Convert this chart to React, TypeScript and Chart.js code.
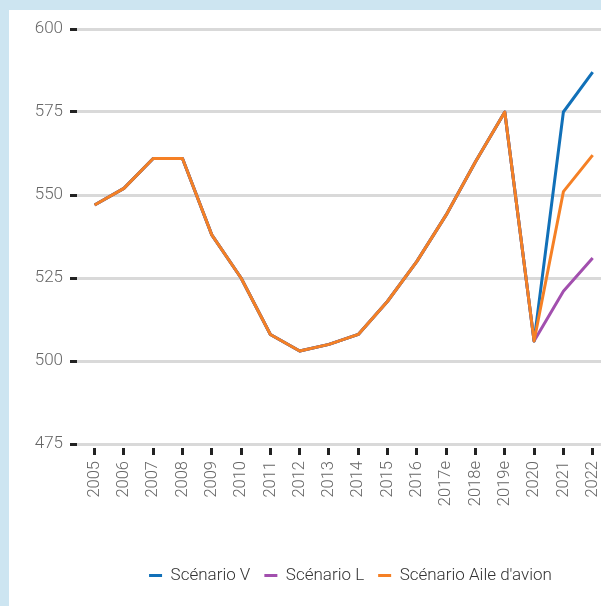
import React, { useEffect, useRef } from "react";
import { Chart, registerables } from "chart.js";

Chart.register(...registerables);

const years = [
  "2005", "2006", "2007", "2008", "2009", "2010", "2011", "2012", "2013",
  "2014", "2015", "2016", "2017e", "2018e", "2019e", "2020", "2021", "2022",
];
const scenarioV = [547, 552, 561, 561, 538, 525, 508, 503, 505, 508, 518, 530, 544, 560, 575, 506, 575, 587];
const scenarioL = [547, 552, 561, 561, 538, 525, 508, 503, 505, 508, 518, 530, 544, 560, 575, 506, 521, 531];
const scenarioAile = [547, 552, 561, 561, 538, 525, 508, 503, 505, 508, 518, 530, 544, 560, 575, 506, 551, 562];
const seriesNames = ["Scénario V", "Scénario L", "Scénario Aile d'avion"];
const seriesColors = ["#1170b8", "#a24fae", "#f58025"];
const yTicks = [475, 500, 525, 550, 575, 600];

const CANVAS_W = 602;
const CANVAS_H = 596;

export default function App() {
  const ref = useRef<HTMLCanvasElement | null>(null);

  useEffect(() => {
    if (!ref.current) return;
    const font = { family: "Roboto", weight: 300 as any, size: 17 };
    const xFont = { family: "Roboto", weight: 300 as any, size: 16.5 };
    const series = [scenarioV, scenarioL, scenarioAile];

    const legendShift = {
      id: "legendShift",
      beforeDraw(chart: any) {
        const lg = chart.legend;
        if (lg) {
          lg.left = 40.5;
          lg.right = 642.5;
        }
      },
    };

    const chart: any = new Chart(ref.current, {
      type: "line",
      data: {
        datasets: series.map((vals, k) => ({
          label: seriesNames[k],
          data: vals.map((y, i) => ({ x: i, y })),
          borderColor: seriesColors[k],
          backgroundColor: seriesColors[k],
          borderWidth: 3,
          borderJoinStyle: "round",
          pointRadius: 0,
          pointHoverRadius: 0,
          tension: 0,
          order: k === 2 ? 0 : 1,
        })),
      },
      options: {
        responsive: false,
        animation: false,
        layout: { padding: { top: 19, left: 0, right: 0, bottom: 12 } },
        plugins: {
          tooltip: { enabled: false },
          legend: {
            position: "bottom",
            labels: {
              boxWidth: 13,
              boxHeight: 3,
              padding: 14,
              color: "#333",
              font,
              sort: (a: any, b: any) => a.datasetIndex - b.datasetIndex,
              generateLabels: (c: any) =>
                (Chart.defaults.plugins.legend.labels as any)
                  .generateLabels(c)
                  .map((it: any) => ({
                    ...it,
                    lineWidth: 0,
                    fillStyle: seriesColors[it.datasetIndex],
                    strokeStyle: seriesColors[it.datasetIndex],
                  })),
            },
          },
        },
        scales: {
          x: {
            type: "linear",
            min: -0.6,
            max: 17.625,
            afterBuildTicks: (s: any) => {
              s.ticks = years.map((_, i) => ({ value: i }));
            },
            afterFit: (s: any) => {
              s.height = 109;
              s.paddingLeft = 0;
              s.paddingRight = 0;
            },
            ticks: {
              autoSkip: false,
              minRotation: 90,
              maxRotation: 90,
              padding: 6,
              color: "#666",
              font: xFont,
              callback: (v: any) => years[v as number],
            },
            grid: {
              drawOnChartArea: false,
              drawTicks: true,
              tickLength: 11,
              tickColor: "#222",
              tickWidth: 3,
              tickBorderDash: [0, 4, 7, 100],
            },
            border: { display: false },
          },
          y: {
            min: 475,
            max: 600,
            afterBuildTicks: (s: any) => {
              s.ticks = yTicks.map((v) => ({ value: v }));
            },
            afterFit: (s: any) => {
              s.width = 68;
            },
            ticks: { padding: 7, color: "#666", font },
            grid: {
              color: "#d9d9d9",
              lineWidth: 3,
              tickColor: "#222",
              tickLength: 7,
              tickWidth: 3,
            },
            border: { display: false },
          },
        },
      } as any,
      plugins: [legendShift],
    });
    return () => chart.destroy();
  }, []);

  return (
    <div
      style={{
        position: "fixed",
        left: 0,
        top: 0,
        width: 601,
        height: 606,
        background: "#cde5f1",
        overflow: "hidden",
      }}
    >
      <div
        style={{
          position: "absolute",
          left: 9,
          top: 10,
          width: 592,
          height: 596,
          background: "#ffffff",
          overflow: "hidden",
        }}
      >
        <canvas
          ref={ref}
          width={CANVAS_W}
          height={CANVAS_H}
          style={{ display: "block", width: CANVAS_W, height: CANVAS_H }}
        />
      </div>
    </div>
  );
}
